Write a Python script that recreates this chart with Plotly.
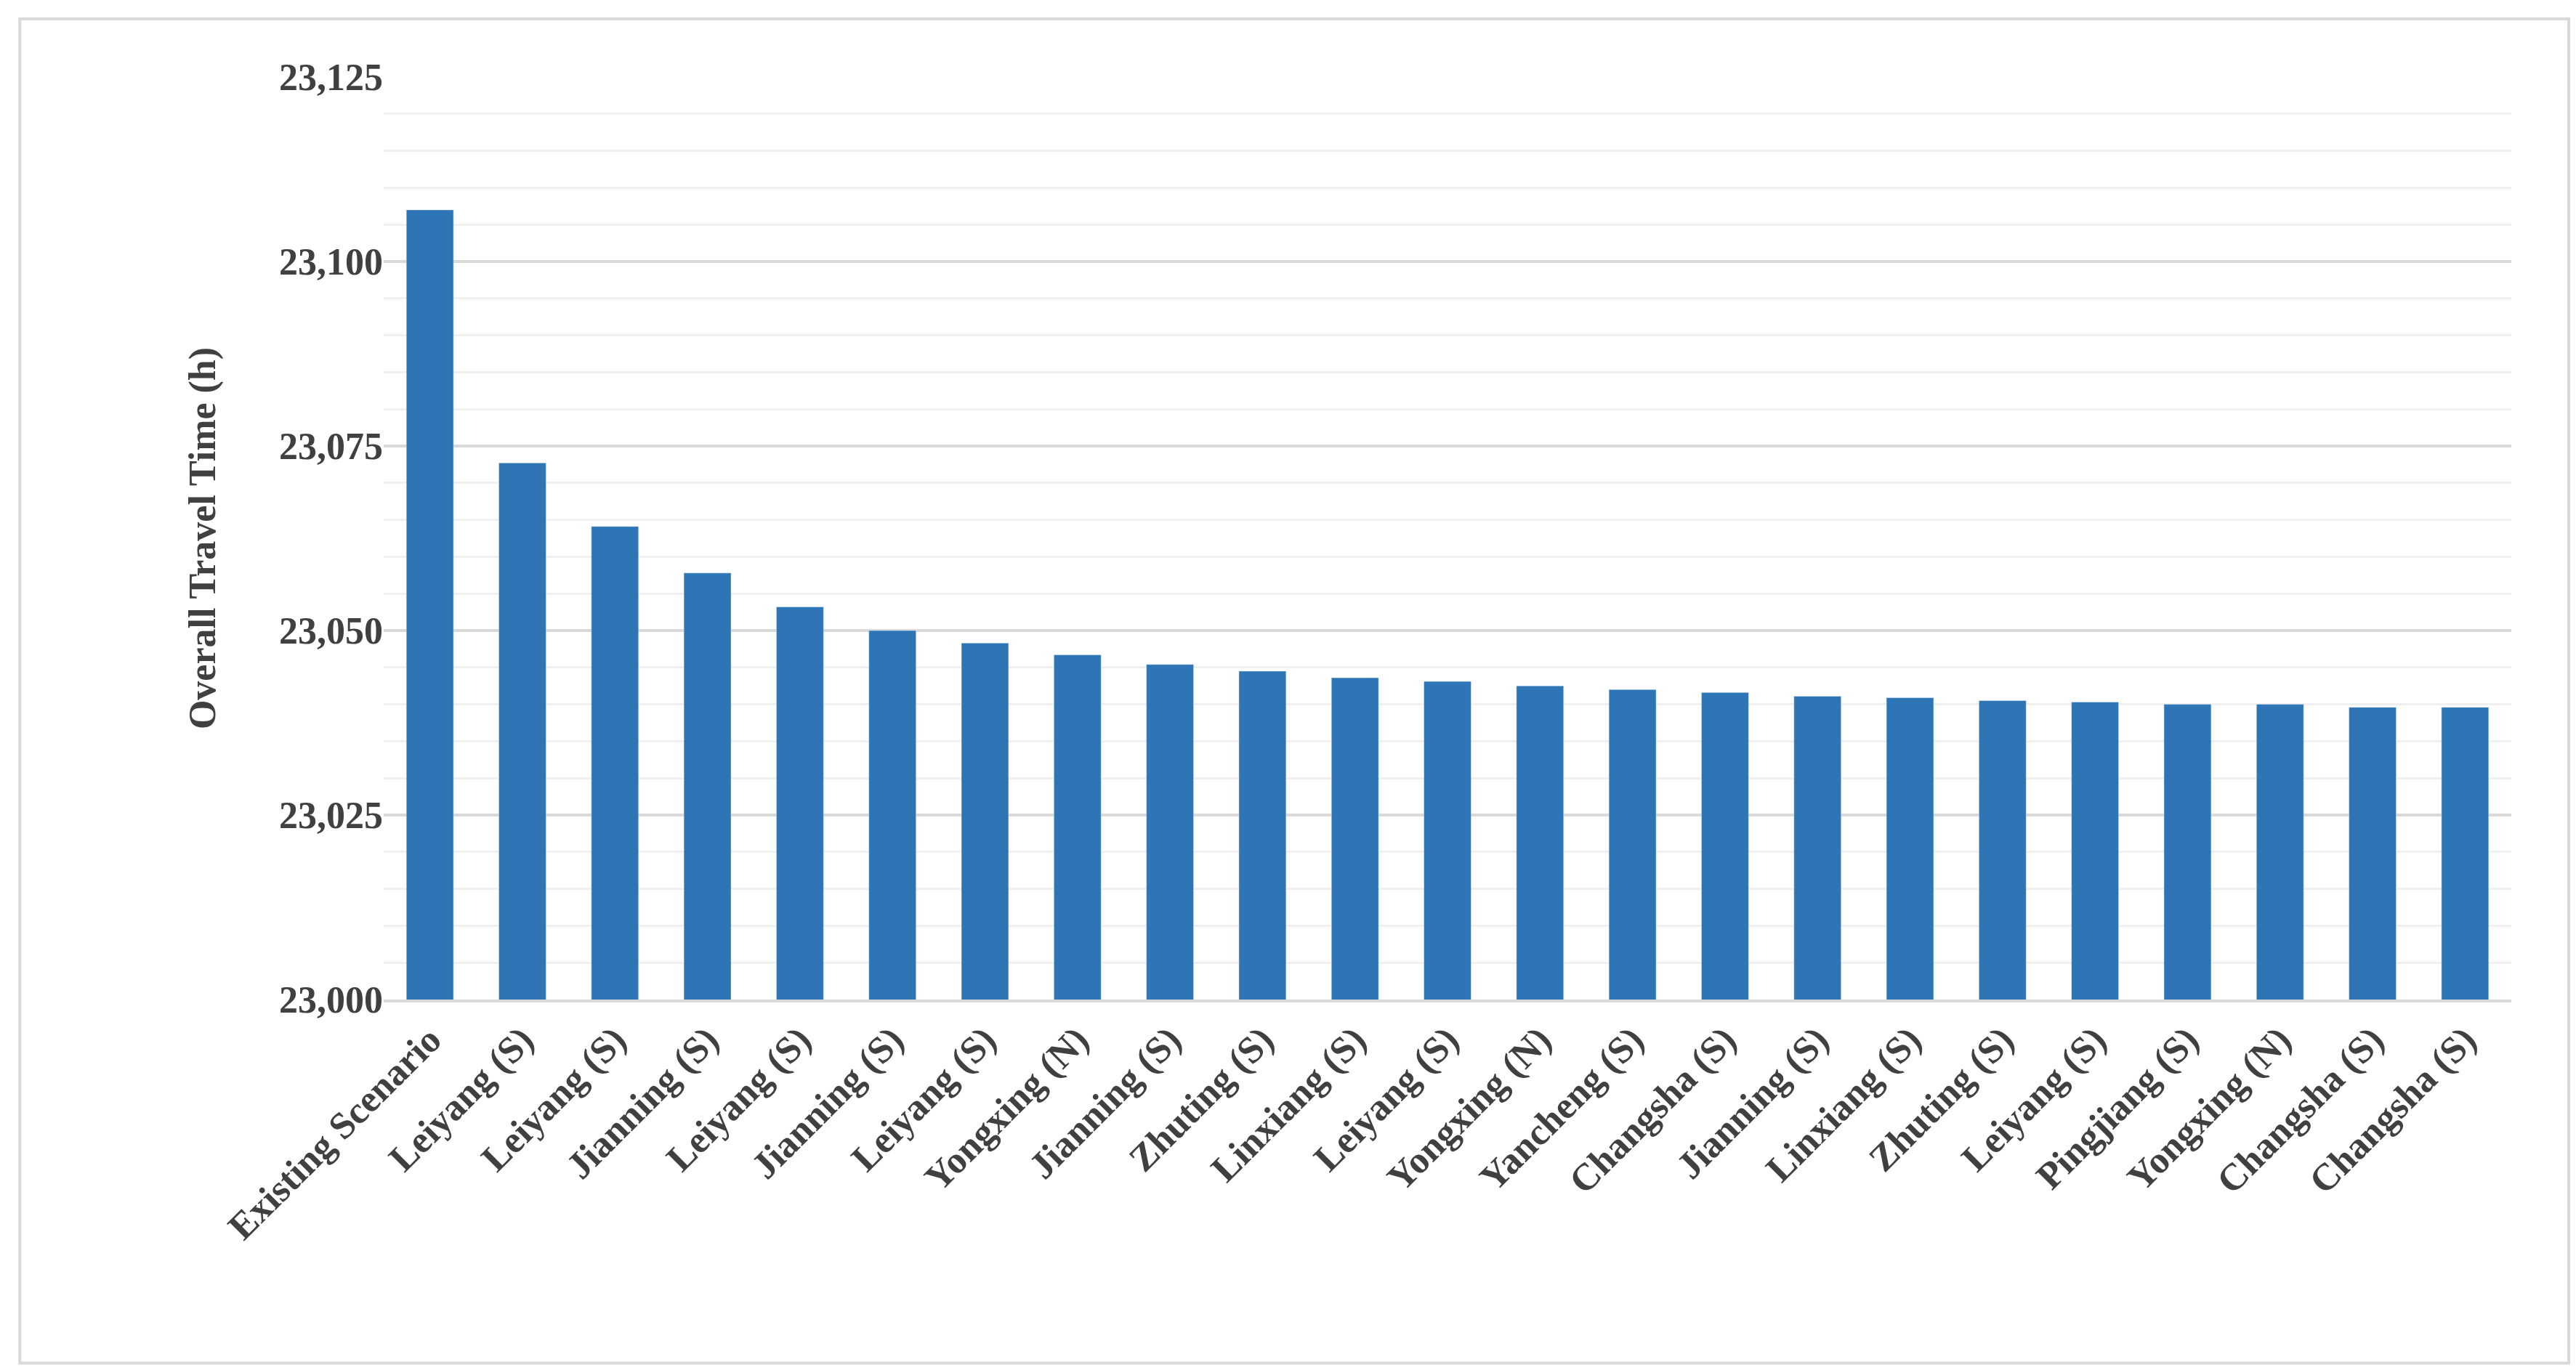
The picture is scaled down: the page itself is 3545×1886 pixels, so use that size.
import plotly.graph_objects as go

scenarios = ["Existing Scenario", "Leiyang (S)", "Leiyang (S)", "Jianning (S)", "Leiyang (S)",
             "Jianning (S)", "Leiyang (S)", "Yongxing (N)", "Jianning (S)", "Zhuting (S)",
             "Linxiang (S)", "Leiyang (S)", "Yongxing (N)", "Yancheng (S)", "Changsha (S)",
             "Jianning (S)", "Linxiang (S)", "Zhuting (S)", "Leiyang (S)", "Pingjiang (S)",
             "Yongxing (N)", "Changsha (S)", "Changsha (S)"]
travel_time = [23107.0, 23072.7, 23064.1, 23057.8, 23053.2, 23050.0, 23048.3, 23046.7,
               23045.4, 23044.5, 23043.6, 23043.1, 23042.5, 23042.0, 23041.6, 23041.1,
               23040.9, 23040.5, 23040.3, 23040.0, 23040.0, 23039.6, 23039.6]
y_ticks = [23000, 23025, 23050, 23075, 23100, 23125]

idx = list(range(len(scenarios)))
font_name = "Liberation Serif"
txt = "#404040"

# bold tick text via html tags
x_labels = ["<b>%s</b>" % s for s in scenarios]
y_labels = ["<b>{:,}</b>".format(v) for v in y_ticks]

fig = go.Figure()
fig.add_trace(go.Bar(x=idx, y=travel_time, marker=dict(color="#2E75B6")))

fig.update_layout(
    width=3545, height=1886,
    plot_bgcolor="white", paper_bgcolor="white",
    margin=dict(l=520, r=97, t=98, b=518),
    bargap=0.49,
    showlegend=False,
    font=dict(family=font_name, color=txt, size=52),
    xaxis=dict(
        tickmode="array", tickvals=idx, ticktext=x_labels, tickangle=-45,
        showgrid=False, zeroline=False, showline=True, linecolor="#d9d9d9", linewidth=4,
        tickfont=dict(size=52, family=font_name, color=txt),
        range=[-0.5, len(scenarios) - 0.5],
    ),
    yaxis=dict(
        range=[23000, 23125], tickmode="array", tickvals=y_ticks, ticktext=y_labels,
        showgrid=True, gridcolor="#d9d9d9", gridwidth=4, zeroline=False,
        tickfont=dict(size=52, family=font_name, color=txt),
        ticks="", ticklen=0,
        title=dict(text="<b>Overall Travel Time (h)</b>",
                   font=dict(size=52, family=font_name, color=txt), standoff=70),
        minor=dict(dtick=5, showgrid=True, gridcolor="#f0f0f0", gridwidth=3),
    ),
    shapes=[dict(type="rect", xref="paper", yref="paper",
                 x0=-0.171, x1=1.027, y0=-0.394, y1=1.063,
                 line=dict(color="#d9d9d9", width=4))],
)

fig.write_html("out.html")
